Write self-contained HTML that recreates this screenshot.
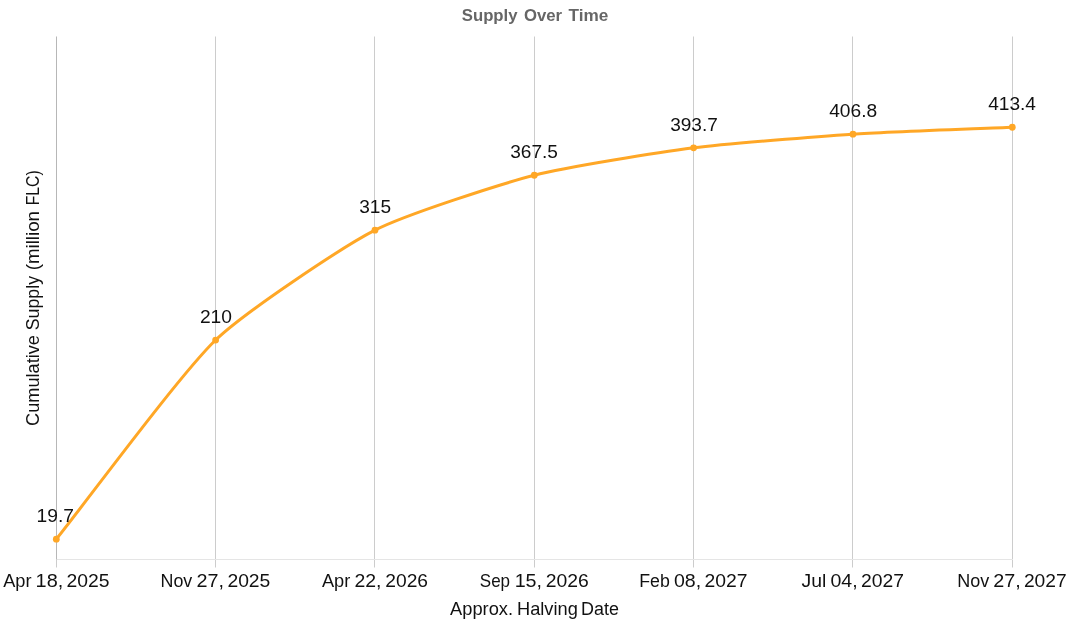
<!DOCTYPE html>
<html><head><meta charset="utf-8"><title>Supply Over Time</title>
<style>
html,body{margin:0;padding:0;background:#fff;}
body{width:1070px;height:635px;overflow:hidden;font-family:"Liberation Sans",sans-serif;}
svg{display:block;}
text{font-family:"Liberation Sans",sans-serif;}
#txt{will-change:transform;}
</style></head><body>
<svg width="1070" height="635" viewBox="0 0 1070 635">
<rect width="1070" height="635" fill="#ffffff"/>
<g>
<rect x="56" y="36.5" width="1" height="522.5" fill="#000" fill-opacity="0.2"/>
<rect x="56" y="560" width="1" height="7.5" fill="#000" fill-opacity="0.2"/>
<rect x="215" y="36.5" width="1" height="522.5" fill="#000" fill-opacity="0.2"/>
<rect x="215" y="560" width="1" height="7.5" fill="#000" fill-opacity="0.2"/>
<rect x="374" y="36.5" width="1" height="522.5" fill="#000" fill-opacity="0.2"/>
<rect x="374" y="560" width="1" height="7.5" fill="#000" fill-opacity="0.2"/>
<rect x="534" y="36.5" width="1" height="522.5" fill="#000" fill-opacity="0.2"/>
<rect x="534" y="560" width="1" height="7.5" fill="#000" fill-opacity="0.2"/>
<rect x="693" y="36.5" width="1" height="522.5" fill="#000" fill-opacity="0.2"/>
<rect x="693" y="560" width="1" height="7.5" fill="#000" fill-opacity="0.2"/>
<rect x="852" y="36.5" width="1" height="522.5" fill="#000" fill-opacity="0.2"/>
<rect x="852" y="560" width="1" height="7.5" fill="#000" fill-opacity="0.2"/>
<rect x="1012" y="36.5" width="1" height="522.5" fill="#000" fill-opacity="0.2"/>
<rect x="1012" y="560" width="1" height="7.5" fill="#000" fill-opacity="0.2"/>
<rect x="56" y="36.5" width="1" height="523.5" fill="#000" fill-opacity="0.1"/>
<rect x="56" y="559" width="957" height="1" fill="#000" fill-opacity="0.1"/>
</g>
<path d="M56.30,539.14 C88.17,499.32 179.40,375.17 215.63,340.04 C243.13,313.38 340.89,247.80 374.96,230.19 C404.63,214.85 501.76,183.67 534.29,175.26 C565.49,167.20 661.58,151.98 693.62,147.85 C725.31,143.76 821.04,136.21 852.95,134.14 C884.77,132.09 980.41,128.62 1012.28,127.24" fill="none" stroke="#ffa726" stroke-width="3" stroke-linecap="butt" stroke-linejoin="round"/>
<circle cx="56.30" cy="539.14" r="3.4" fill="#ffa726"/>
<circle cx="215.63" cy="340.04" r="3.4" fill="#ffa726"/>
<circle cx="374.96" cy="230.19" r="3.4" fill="#ffa726"/>
<circle cx="534.29" cy="175.26" r="3.4" fill="#ffa726"/>
<circle cx="693.62" cy="147.85" r="3.4" fill="#ffa726"/>
<circle cx="852.95" cy="134.14" r="3.4" fill="#ffa726"/>
<circle cx="1012.28" cy="127.24" r="3.4" fill="#ffa726"/>
<g id="txt">
<text transform="translate(461.74,20.50) scale(1.0472,1)" font-size="16" font-weight="bold" fill="#666666">Supply</text>
<text transform="translate(523.98,20.50) scale(1.0464,1)" font-size="16" font-weight="bold" fill="#666666">Over</text>
<text transform="translate(568.50,20.50) scale(1.0749,1)" font-size="16" font-weight="bold" fill="#666666">Time</text>
<text transform="translate(3.14,587.00) scale(1.0121,1)" font-size="18" fill="#111111">Apr</text>
<text transform="translate(35.56,587.00) scale(1.1063,1)" font-size="18" fill="#111111">18,</text>
<text transform="translate(66.59,587.00) scale(1.0749,1)" font-size="18" fill="#111111">2025</text>
<text transform="translate(160.50,587.00) scale(0.9933,1)" font-size="18" fill="#111111">Nov</text>
<text transform="translate(196.57,587.00) scale(1.0992,1)" font-size="18" fill="#111111">27,</text>
<text transform="translate(227.39,587.00) scale(1.0736,1)" font-size="18" fill="#111111">2025</text>
<text transform="translate(321.90,587.00) scale(1.0135,1)" font-size="18" fill="#111111">Apr</text>
<text transform="translate(354.39,587.00) scale(1.0817,1)" font-size="18" fill="#111111">22,</text>
<text transform="translate(385.30,587.00) scale(1.0684,1)" font-size="18" fill="#111111">2026</text>
<text transform="translate(479.77,587.00) scale(0.9468,1)" font-size="18" fill="#111111">Sep</text>
<text transform="translate(514.67,587.00) scale(1.0952,1)" font-size="18" fill="#111111">15,</text>
<text transform="translate(545.64,587.00) scale(1.0749,1)" font-size="18" fill="#111111">2026</text>
<text transform="translate(639.21,587.00) scale(0.9868,1)" font-size="18" fill="#111111">Feb</text>
<text transform="translate(673.99,587.00) scale(1.0880,1)" font-size="18" fill="#111111">08,</text>
<text transform="translate(704.59,587.00) scale(1.0749,1)" font-size="18" fill="#111111">2027</text>
<text transform="translate(801.45,587.00) scale(1.0793,1)" font-size="18" fill="#111111">Jul</text>
<text transform="translate(830.44,587.00) scale(1.0880,1)" font-size="18" fill="#111111">04,</text>
<text transform="translate(861.04,587.00) scale(1.0749,1)" font-size="18" fill="#111111">2027</text>
<text transform="translate(957.19,587.00) scale(0.9999,1)" font-size="18" fill="#111111">Nov</text>
<text transform="translate(993.27,587.00) scale(1.0992,1)" font-size="18" fill="#111111">27,</text>
<text transform="translate(1023.90,587.00) scale(1.0684,1)" font-size="18" fill="#111111">2027</text>
<text transform="translate(450.10,614.80) scale(1.0164,1)" font-size="18" fill="#111111">Approx.</text>
<text transform="translate(516.97,614.80) scale(1.0137,1)" font-size="18" fill="#111111">Halving</text>
<text transform="translate(581.10,614.80) scale(0.9948,1)" font-size="18" fill="#111111">Date</text>
<text transform="translate(36.50,521.90) scale(1.0700,1)" font-size="18" fill="#111111">19.7</text>
<text transform="translate(199.90,323.00) scale(1.0682,1)" font-size="18" fill="#111111">210</text>
<text transform="translate(359.20,213.00) scale(1.0612,1)" font-size="18" fill="#111111">315</text>
<text transform="translate(510.20,158.00) scale(1.0605,1)" font-size="18" fill="#111111">367.5</text>
<text transform="translate(670.20,131.00) scale(1.0582,1)" font-size="18" fill="#111111">393.7</text>
<text transform="translate(829.15,116.90) scale(1.0662,1)" font-size="18" fill="#111111">406.8</text>
<text transform="translate(988.15,109.90) scale(1.0629,1)" font-size="18" fill="#111111">413.4</text>
<text transform="translate(38.80,425.95) rotate(-90) scale(1.0095,1)" font-size="18" fill="#111111">Cumulative</text>
<text transform="translate(38.80,330.25) rotate(-90) scale(0.9858,1)" font-size="18" fill="#111111">Supply</text>
<text transform="translate(38.80,270.28) rotate(-90) scale(1.0408,1)" font-size="18" fill="#111111">(million</text>
<text transform="translate(38.80,205.23) rotate(-90) scale(0.8736,1)" font-size="18" fill="#111111">FLC)</text>
</g>
</svg></body></html>
